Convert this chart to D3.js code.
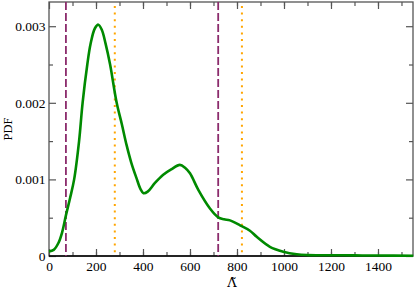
<!DOCTYPE html>
<html>
<head>
<meta charset="utf-8">
<script src="https://cdn.jsdelivr.net/npm/d3@7"></script>
<style>
  body { margin: 0; background: #fff; }
</style>
</head>
<body>
<div id="chart"></div>
<script>
  // PDF curve, x in Lambda-tilde units, y in units of 1e-3
  const lambdaVals = [0, 20, 40, 55, 72, 90, 107, 128, 143, 163, 177, 195, 210, 225, 241, 260, 288, 310, 330, 350, 372, 390, 402, 420, 450, 486, 520, 557, 580, 600, 636, 685, 720, 745, 770, 813, 855, 884, 940, 997, 1054, 1100, 1200, 1300, 1400, 1550];
  const pdfVals = [0.06, 0.08, 0.17, 0.3, 0.53, 0.76, 1.0, 1.5, 2.0, 2.5, 2.77, 2.97, 3.02, 2.95, 2.77, 2.5, 2.0, 1.72, 1.45, 1.22, 1.02, 0.87, 0.82, 0.84, 0.95, 1.06, 1.13, 1.19, 1.15, 1.08, 0.86, 0.62, 0.505, 0.48, 0.465, 0.40, 0.33, 0.25, 0.12, 0.056, 0.022, 0.012, 0.01, 0.008, 0.006, 0.004];
  const dashedLines = [72, 720];
  const dottedLines = [280, 821];
  const xTicks = [0, 200, 400, 600, 800, 1000, 1200, 1400];
  const yTicks = [0, 0.001, 0.002, 0.003];

  const serif = "'Liberation Serif', 'Times New Roman', Times, serif";
  const width = 415;
  const height = 289;
  const margin = { top: 2, right: 2, bottom: 33, left: 49 };
  const w = width - margin.left - margin.right;
  const h = height - margin.top - margin.bottom;

  const svg = d3.select("#chart").append("svg")
    .attr("width", width)
    .attr("height", height)
    .attr("font-family", serif);
  const g = svg.append("g")
    .attr("transform", `translate(${margin.left},${margin.top})`);

  const x = d3.scaleLinear().domain([0, 1549]).range([0, w]);
  const y = d3.scaleLinear().domain([0, 0.003316]).range([h, 0]);

  const minorX = d3.range(100, 1550, 100);
  const minorY = [0.0005, 0.0015, 0.0025];

  function styleAxis(sel) {
    sel.attr("font-family", serif);
    sel.select(".domain").remove();
    sel.selectAll("line").attr("stroke", "#555").attr("stroke-width", 1.2);
    sel.selectAll("text")
      .attr("font-family", serif)
      .attr("font-size", "13.5px")
      .attr("fill", "#000");
  }

  // ticks, all pointing inward
  g.append("g").attr("transform", `translate(0,${h})`)
    .call(d3.axisBottom(x).tickValues(minorX).tickSize(-4).tickFormat(""))
    .call(styleAxis);
  g.append("g").attr("transform", `translate(0,${h})`)
    .call(d3.axisBottom(x).tickValues(xTicks).tickSize(-7).tickPadding(5).tickFormat(d3.format("d")))
    .call(styleAxis);
  g.append("g")
    .call(d3.axisTop(x).tickValues(minorX).tickSize(-4).tickFormat(""))
    .call(styleAxis);
  g.append("g")
    .call(d3.axisTop(x).tickValues(xTicks).tickSize(-7).tickFormat(""))
    .call(styleAxis);
  g.append("g")
    .call(d3.axisLeft(y).tickValues(minorY).tickSize(-4).tickFormat(""))
    .call(styleAxis);
  g.append("g")
    .call(d3.axisLeft(y).tickValues(yTicks).tickSize(-7).tickPadding(3.5)
      .tickFormat(d => d === 0 ? "0" : d3.format(".3f")(d)))
    .call(styleAxis);
  g.append("g").attr("transform", `translate(${w},0)`)
    .call(d3.axisRight(y).tickValues(minorY).tickSize(-4).tickFormat(""))
    .call(styleAxis);
  g.append("g").attr("transform", `translate(${w},0)`)
    .call(d3.axisRight(y).tickValues(yTicks).tickSize(-7).tickFormat(""))
    .call(styleAxis);

  // frame
  g.append("rect")
    .attr("width", w).attr("height", h)
    .attr("fill", "none")
    .attr("stroke", "#555")
    .attr("stroke-width", 1.3);
  g.append("line")
    .attr("x1", 0).attr("x2", w).attr("y1", h).attr("y2", h)
    .attr("stroke", "#000").attr("stroke-width", 1.5);

  // vertical reference lines
  g.selectAll(".dashed").data(dashedLines).enter().append("line")
    .attr("x1", d => x(d)).attr("x2", d => x(d))
    .attr("y1", 0).attr("y2", h)
    .attr("stroke", "#8b2b6c")
    .attr("stroke-width", 1.8)
    .attr("stroke-dasharray", "8,3");
  g.selectAll(".dotted").data(dottedLines).enter().append("line")
    .attr("x1", d => x(d)).attr("x2", d => x(d))
    .attr("y1", 4).attr("y2", h)
    .attr("stroke", "#ffa500")
    .attr("stroke-width", 2)
    .attr("stroke-dasharray", "2,4.6");

  // PDF curve
  const pts = lambdaVals.map((d, i) => ({ x: d, y: pdfVals[i] * 1e-3 }));
  g.append("path")
    .datum(pts)
    .attr("fill", "none")
    .attr("stroke", "#008a00")
    .attr("stroke-width", 2.6)
    .attr("stroke-linejoin", "round")
    .attr("d", d3.line()
      .x(d => x(d.x))
      .y(d => y(d.y))
      .curve(d3.curveCatmullRom.alpha(0.5)));

  // axis labels
  svg.append("text")
    .attr("x", 232).attr("y", 287)
    .attr("text-anchor", "middle")
    .attr("font-family", "'DejaVu Serif', serif")
    .attr("font-size", "13px")
    .text("Λ\u0303");
  svg.append("text")
    .attr("transform", "translate(12,129) rotate(-90)")
    .attr("text-anchor", "middle")
    .attr("font-size", "12.5px")
    .text("PDF");
</script>
</body>
</html>
